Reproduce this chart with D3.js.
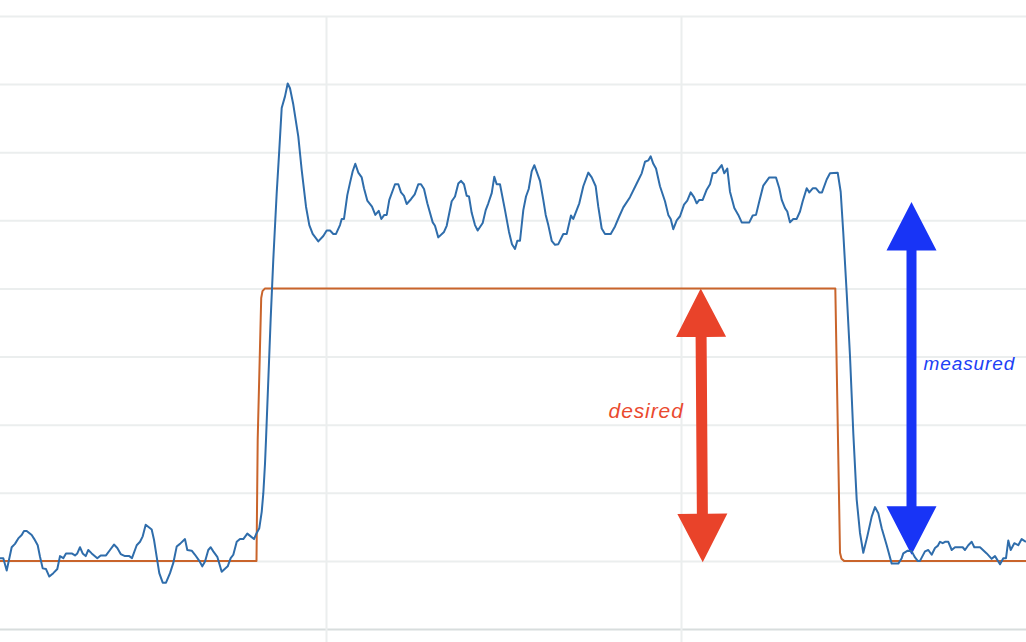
<!DOCTYPE html>
<html>
<head>
<meta charset="utf-8">
<script src="https://cdn.jsdelivr.net/npm/d3@7"></script>
<style>
  html, body { margin: 0; padding: 0; background: #fff; overflow: hidden; }
  svg { display: block; }
</style>
</head>
<body>
<svg id="chart" width="1026" height="642"></svg>
<script>
// ---------------- data ----------------
// time (ms) ticks for vertical grid lines
const xTicks = [100, 200];
// value ticks for horizontal grid lines
const yTicks = [-1, 0, 1, 2, 3, 4, 5, 6, 7, 8];

// desired (set-point) signal: [time, value]
const desired = [
  [8.17, 0], [80.42, 0], [80.76, 1.78], [81.61, 3.57], [81.75, 3.86],
  [82.11, 3.96], [82.82, 4.0], [243.47, 4.0], [244.79, 0.12], [245.21, 0.03],
  [245.92, 0], [297.18, 0]
];

// measured signal: [time, value]
const measured = [
  [8.17,0.04],[9.10,0.04],[10.06,-0.14],[11.46,0.20],[12.39,0.25],[13.32,0.33],[14.28,0.38],[14.93,0.44],
  [15.69,0.44],[17.10,0.38],[17.83,0.32],[18.79,0.23],[19.44,0.06],[20.20,-0.11],[21.13,-0.12],[22.06,-0.23],
  [23.18,-0.18],[24.31,-0.12],[25.07,0.07],[26.00,0.04],[26.76,0.11],[28.37,0.11],[29.30,0.08],[29.94,0.11],
  [30.70,0.20],[31.46,0.11],[32.31,0.07],[33.04,0.16],[34.00,0.11],[35.58,0.04],[36.53,0.08],[38.03,0.08],
  [39.15,0.16],[40.28,0.24],[41.21,0.19],[42.17,0.10],[43.38,0.07],[44.59,0.07],[45.35,0.04],[46.68,0.23],
  [47.61,0.28],[48.37,0.36],[49.21,0.53],[50.90,0.46],[51.55,0.31],[52.31,0.06],[53.04,-0.18],[54.00,-0.32],
  [54.93,-0.32],[56.06,-0.18],[56.99,-0.03],[57.94,0.21],[58.87,0.25],[60.28,0.32],[60.93,0.16],[62.17,0.15],
  [63.10,0.09],[64.31,0.00],[65.15,-0.08],[65.92,-0.01],[66.84,0.16],[67.52,0.20],[68.25,0.14],[69.38,0.06],
  [70.62,-0.16],[72.31,-0.08],[73.15,0.04],[73.89,0.09],[74.85,0.28],[75.77,0.32],[76.70,0.32],[77.83,0.40],
  [78.79,0.36],[79.72,0.32],[80.48,0.41],[81.21,0.48],[81.89,0.72],[82.34,0.99],[82.82,1.43],[83.10,1.78],
  [84.42,3.56],[85.15,4.42],[86.11,5.40],[86.84,6.03],[87.52,6.65],[88.45,6.82],[89.21,7.01],[89.86,6.94],
  [90.79,6.70],[92.20,6.23],[93.15,5.74],[94.37,5.20],[95.30,4.93],[96.25,4.80],[97.83,4.69],[99.24,4.77],
  [100.20,4.85],[101.13,4.85],[102.06,4.80],[102.82,4.80],[103.94,4.93],[104.42,5.02],[105.07,5.02],[106.00,5.37],
  [106.76,5.55],[107.52,5.72],[108.25,5.83],[109.10,5.70],[110.06,5.63],[110.70,5.47],[111.63,5.29],[112.96,5.20],
  [113.89,5.08],[114.85,5.14],[115.58,5.02],[116.42,5.08],[117.10,5.08],[117.83,5.30],[119.44,5.53],[120.37,5.53],
  [121.13,5.41],[121.97,5.36],[122.73,5.24],[123.94,5.31],[124.99,5.38],[126.00,5.53],[126.76,5.53],[127.61,5.46],
  [128.54,5.25],[130.06,4.97],[130.70,4.92],[131.63,4.75],[133.24,4.83],[134.00,4.92],[135.41,5.28],[136.34,5.35],
  [137.27,5.54],[138.03,5.58],[138.87,5.53],[139.63,5.36],[140.28,5.35],[141.04,5.11],[141.97,4.93],[142.73,4.85],
  [144.14,4.96],[144.99,5.15],[145.72,5.25],[146.68,5.40],[147.41,5.64],[148.08,5.53],[149.01,5.53],[150.42,5.15],
  [151.55,4.83],[152.39,4.65],[153.24,4.58],[153.89,4.70],[154.65,4.70],[155.58,5.15],[156.34,5.35],[157.10,5.46],
  [157.94,5.72],[158.68,5.81],[159.52,5.69],[160.28,5.58],[161.21,5.30],[161.89,5.08],[162.62,4.93],[163.58,4.70],
  [164.51,4.64],[165.44,4.65],[166.84,4.80],[167.80,4.80],[169.01,5.07],[169.66,5.02],[171.35,5.25],[172.48,5.50],
  [173.89,5.70],[174.85,5.63],[175.97,5.50],[176.70,5.20],[177.66,4.88],[178.59,4.80],[180.20,4.80],[181.41,4.91],
  [182.62,5.06],[183.75,5.19],[185.63,5.34],[187.52,5.54],[188.93,5.69],[189.86,5.86],[190.79,5.88],[191.46,5.94],
  [192.20,5.83],[192.96,5.76],[194.08,5.50],[195.49,5.28],[196.42,5.08],[197.10,5.02],[197.83,4.87],[198.79,5.00],
  [199.72,5.06],[200.85,5.23],[201.77,5.29],[202.73,5.41],[203.66,5.34],[204.42,5.25],[205.16,5.30],[206.11,5.30],
  [207.24,5.45],[208.17,5.53],[208.93,5.69],[209.86,5.70],[211.46,5.81],[212.20,5.69],[213.04,5.76],[213.80,5.42],
  [215.02,5.18],[216.14,5.08],[217.10,4.97],[219.24,4.97],[220.20,5.07],[221.13,5.08],[222.06,5.28],[223.18,5.51],
  [224.87,5.63],[226.76,5.63],[227.69,5.47],[228.37,5.30],[229.30,5.18],[229.94,5.13],[230.70,4.97],[231.63,5.02],
  [232.59,5.02],[233.52,5.13],[234.28,5.28],[235.41,5.47],[236.14,5.41],[237.10,5.47],[238.03,5.47],[238.96,5.41],
  [239.72,5.41],[241.04,5.60],[241.97,5.69],[244.14,5.70],[244.98,5.42],[245.72,4.81],[246.68,3.93],[247.61,3.00],
  [248.54,1.87],[249.49,0.90],[250.42,0.41],[251.35,0.12],[252.48,0.36],[253.72,0.65],[254.65,0.79],[255.58,0.70],
  [256.54,0.48],[257.94,0.23],[259.35,-0.04],[261.21,-0.04],[262.17,0.04],[262.62,0.11],[263.86,0.15],[264.99,0.14],
  [265.92,0.05],[266.68,0.00],[267.32,0.00],[268.73,0.14],[269.66,0.16],[270.62,0.09],[271.55,0.19],[272.31,0.22],
  [272.96,0.28],[273.72,0.26],[274.37,0.28],[275.30,0.28],[276.26,0.16],[277.18,0.20],[279.35,0.20],[280.00,0.16],
  [280.93,0.23],[281.89,0.28],[282.62,0.20],[284.23,0.20],[286.11,0.11],[287.52,0.03],[288.45,0.07],[289.86,-0.05],
  [290.79,0.04],[291.55,0.04],[292.20,0.30],[292.87,0.16],[293.89,0.26],[295.01,0.23],[295.97,0.32],[297.18,0.28]
];

// annotation arrows: label, start [time, value], end [time, value]
const arrowLabels = ["desired", "measured"];
const arrowStarts = [[205.56, 4.0], [264.93, 5.27]];
const arrowEnds   = [[206.12, -0.02], [264.93, 0.09]];

// ---------------- chart ----------------
const W = 1026, H = 642;
const svg = d3.select("#chart");

const x = d3.scaleLinear().domain([8.169, 297.183]).range([0, W]);
const y = d3.scaleLinear().domain([-1, 8]).range([629, 16]);

const gridColor = "#ebeeee";

// horizontal grid
const gy = svg.append("g")
  .call(d3.axisLeft(y).tickValues(yTicks).tickSize(-W).tickFormat(""));
gy.select(".domain").remove();
gy.selectAll(".tick line")
  .attr("stroke", d => d === -1 ? "#d8dddd" : gridColor)
  .attr("stroke-width", 2);

// vertical grid (extends past the bottom edge)
const gx = svg.append("g")
  .attr("transform", `translate(0,${H})`)
  .call(d3.axisBottom(x).tickValues(xTicks).tickSize(-(H - y(8))).tickFormat(""));
gx.select(".domain").remove();
gx.selectAll(".tick line").attr("stroke", gridColor).attr("stroke-width", 2);

// arrows
const arrowColors = ["#e9432a", "#1834f6"];
const shaftWidths = [11, 10];
function arrowPath(p0, p1, headLen, headW, shaftW) {
  const dx = p1[0] - p0[0], dy = p1[1] - p0[1];
  const L = Math.hypot(dx, dy);
  const ux = dx / L, uy = dy / L, px = -uy, py = ux;
  const a = (p, s, w) => [p[0] + ux * s + px * w, p[1] + uy * s + py * w];
  const pts = [
    p0,
    a(p0, headLen, headW / 2),
    a(p0, headLen, shaftW / 2),
    a(p1, -headLen, shaftW / 2),
    a(p1, -headLen, headW / 2),
    p1,
    a(p1, -headLen, -headW / 2),
    a(p1, -headLen, -shaftW / 2),
    a(p0, headLen, -shaftW / 2),
    a(p0, headLen, -headW / 2)
  ];
  return "M" + pts.map(p => p[0].toFixed(2) + "," + p[1].toFixed(2)).join("L") + "Z";
}

svg.append("g").selectAll("path")
  .data(arrowLabels)
  .join("path")
  .attr("d", (d, i) => arrowPath(
    [x(arrowStarts[i][0]), y(arrowStarts[i][1])],
    [x(arrowEnds[i][0]), y(arrowEnds[i][1])],
    48.5, 50, shaftWidths[i]))
  .attr("fill", (d, i) => arrowColors[i]);

// lines
const line = d3.line().x(d => x(d[0])).y(d => y(d[1]));

svg.append("path")
  .datum(desired)
  .attr("d", line)
  .attr("fill", "none")
  .attr("stroke", "#c9642b")
  .attr("stroke-width", 2)
  .attr("stroke-linejoin", "round");

svg.append("path")
  .datum(measured)
  .attr("d", line)
  .attr("fill", "none")
  .attr("stroke", "#2f6dab")
  .attr("stroke-width", 2)
  .attr("stroke-linejoin", "round");

// labels
const midV = i => (arrowStarts[i][1] + arrowEnds[i][1]) / 2;
svg.append("text")
  .attr("x", x(arrowStarts[0][0]) - 17)
  .attr("y", y(midV(0)) - 7.5)
  .attr("text-anchor", "end")
  .attr("font-family", "'Liberation Sans', Arial, sans-serif")
  .attr("font-style", "italic")
  .attr("font-size", 21)
  .attr("letter-spacing", "0.9px")
  .attr("fill", "#ea4a2f")
  .text(arrowLabels[0]);

svg.append("text")
  .attr("x", x(arrowStarts[1][0]) + 12)
  .attr("y", y(midV(1)) - 8.5)
  .attr("text-anchor", "start")
  .attr("font-family", "'Liberation Sans', Arial, sans-serif")
  .attr("font-style", "italic")
  .attr("font-size", 19)
  .attr("letter-spacing", "0.9px")
  .attr("fill", "#2040f5")
  .text(arrowLabels[1]);
</script>
</body>
</html>
